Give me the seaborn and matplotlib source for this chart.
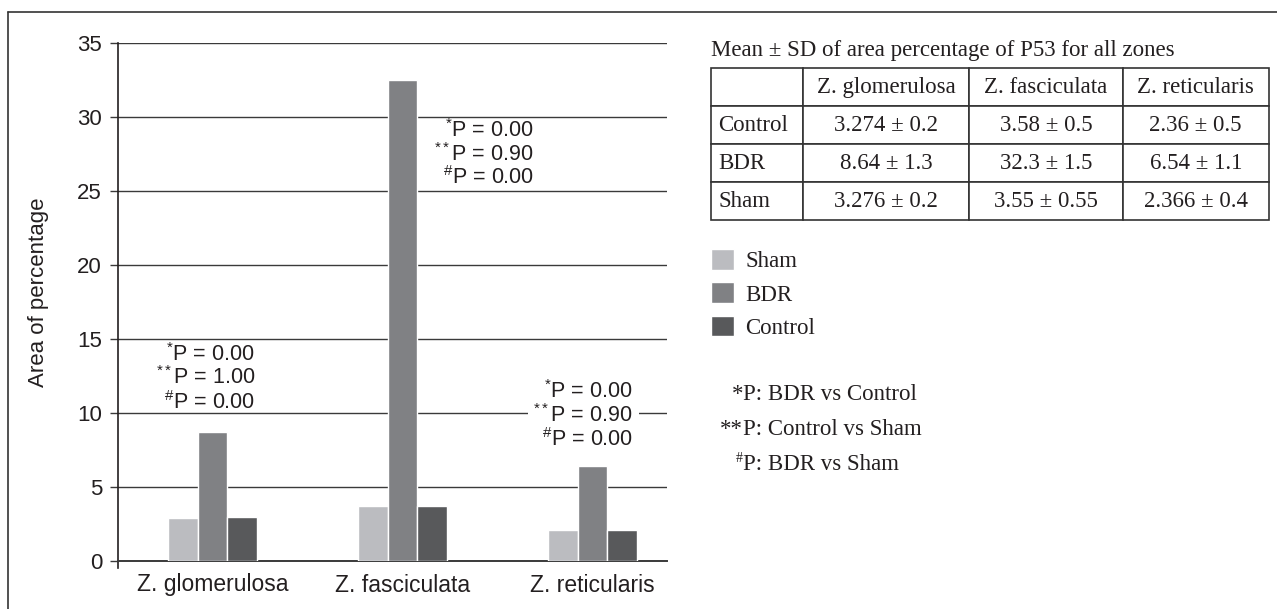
import matplotlib
matplotlib.use("Agg")
import matplotlib.pyplot as plt
import seaborn as sns
import pandas as pd

# ---------------- data ----------------
zones = ["Z. glomerulosa", "Z. fasciculata", "Z. reticularis"]
groups = ["Sham", "BDR", "Control"]
sham = [2.92, 3.74, 2.10]
bdr = [8.74, 32.5, 6.45]
control = [2.97, 3.74, 2.10]

p_star = ["0.00", "0.00", "0.00"]
p_dstar = ["1.00", "0.90", "0.90"]
p_hash = ["0.00", "0.00", "0.00"]

table_title = "Mean \u00b1 SD of area percentage of P53 for all zones"
table_rows = ["Control", "BDR", "Sham"]
table_control = ["3.274 \u00b1 0.2", "3.58 \u00b1 0.5", "2.36 \u00b1 0.5"]
table_bdr = ["8.64 \u00b1 1.3", "32.3 \u00b1 1.5", "6.54 \u00b1 1.1"]
table_sham = ["3.276 \u00b1 0.2", "3.55 \u00b1 0.55", "2.366 \u00b1 0.4"]

notes_prefix = ["*", "**", "#"]
notes_text = ["P: BDR vs Control", "P: Control vs Sham", "P: BDR vs Sham"]

colors = ["#bbbcc0", "#808184", "#58595b"]
# --------------------------------------

sns.set_theme(style="white")
plt.rcParams["font.family"] = ["Liberation Sans", "DejaVu Sans"]
plt.rcParams["mathtext.fontset"] = "custom"
plt.rcParams["mathtext.rm"] = "Liberation Sans"
plt.rcParams["mathtext.it"] = "Liberation Sans"
plt.rcParams["mathtext.bf"] = "Liberation Sans"

TXT = "#231f20"
W, H = 1277, 609
fig = plt.figure(figsize=(W / 100, H / 100), dpi=100)
fig.patch.set_facecolor("white")

ax = fig.add_axes([118 / W, 1 - 561 / H, 549 / W, (561 - 43.3) / H])

df = pd.DataFrame({
    "zone": zones * 3,
    "group": ["Sham"] * 3 + ["BDR"] * 3 + ["Control"] * 3,
    "value": sham + bdr + control,
})
sns.barplot(data=df, x="zone", y="value", hue="group", hue_order=groups,
            order=zones, palette=colors, width=0.47, gap=0, saturation=1,
            ax=ax, zorder=3, legend=True)

ax.set_xlim(-0.497, 2.392)
ax.set_ylim(0, 35)
ax.set_yticks(range(0, 36, 5))
ax.grid(axis="y", color="#3a3a3a", lw=1.0, zorder=0)
ax.grid(axis="x", visible=False)
ax.set_axisbelow(True)
for s in ["top", "right"]:
    ax.spines[s].set_visible(False)
ax.spines["left"].set_color("#231f20")
ax.spines["left"].set_linewidth(1.2)
ax.spines["left"].set_bounds(-0.5, 35)
ax.spines["bottom"].set_color("#3a3a3a")
ax.spines["bottom"].set_linewidth(1.4)
ax.tick_params(axis="y", direction="out", length=6, width=1.0, color="#3a3a3a",
               pad=5.5, labelsize=16, labelcolor=TXT, left=True)
ax.tick_params(axis="x", length=0, pad=9, labelsize=16.5, labelcolor=TXT)
ax.set_xlabel("")
ax.set_ylabel("Area of percentage", fontsize=16, color=TXT)
ax.yaxis.set_label_coords(-0.126, 0.52)

# annotations
ann_x = [0.224, 1.692, 2.213]
ann_y = [[13.95, 12.37, 10.74], [29.1, 27.5, 25.9], [11.47, 9.84, 8.2]]
for i in range(3):
    lines = [r"$^{*}$P = " + p_star[i], r"$^{**}$P = " + p_dstar[i],
             r"$^{\#}$P = " + p_hash[i]]
    for j, t in enumerate(lines):
        kw = {}
        if i == 2 and j == 1:
            kw["bbox"] = dict(facecolor="white", edgecolor="none", pad=4)
        ax.text(ann_x[i], ann_y[i][j], t, ha="right", va="center",
                fontsize=15.5, color=TXT, zorder=5, **kw)

# legend
sns.move_legend(ax, "upper left", bbox_to_anchor=(711 / W, 1 - 249 / H),
                bbox_transform=fig.transFigure, frameon=False, title=None,
                prop={"family": "Liberation Serif", "size": 16.5},
                handlelength=1.0, handleheight=1.0, handletextpad=0.5,
                labelspacing=0.45, borderpad=0, borderaxespad=0)
for t in ax.get_legend().get_texts():
    t.set_color(TXT)

# overlay in pixel coordinates
oax = fig.add_axes([0, 0, 1, 1])
oax.set_xlim(0, W)
oax.set_ylim(H, 0)
oax.axis("off")
oax.plot([8, 8], [H, 12], color="#333333", lw=1.2, clip_on=False)
oax.plot([8, W], [12, 12], color="#333333", lw=1.2, clip_on=False)

oax.text(711, 56, table_title, ha="left", va="baseline",
         fontsize=16.5, family="Liberation Serif", color=TXT)

cell_text = [[""] + zones,
             [table_rows[0]] + table_control,
             [table_rows[1]] + table_bdr,
             [table_rows[2]] + table_sham]
colw = [92.3, 166, 153.4, 146]
tot = sum(colw)
x0, x1, y0, y1 = 711, 1268.7, 68.3, 220.3
tbl = oax.table(cellText=cell_text, colWidths=[c / tot for c in colw],
                cellLoc="center",
                bbox=[x0 / W, 1 - y1 / H, (x1 - x0) / W, (y1 - y0) / H])
tbl.auto_set_font_size(False)
for (r, c), cell in tbl.get_celld().items():
    cell.set_edgecolor("#333333")
    cell.set_linewidth(1.2)
    txt = cell.get_text()
    txt.set_fontfamily("Liberation Serif")
    txt.set_fontsize(16.5)
    txt.set_color(TXT)
    if c == 0:
        txt.set_ha("left")
        cell.PAD = 0.08

# notes
note_y = [394, 429.5, 464.5]
for k in range(3):
    oax.text(743, note_y[k], notes_text[k], ha="left", va="center",
             fontsize=16.5, family="Liberation Serif", color=TXT)
    if notes_prefix[k] == "#":
        oax.text(743, note_y[k] - 6, notes_prefix[k], ha="right", va="center",
                 fontsize=10, family="Liberation Serif", color=TXT)
    else:
        oax.text(743, note_y[k], notes_prefix[k], ha="right", va="center",
                 fontsize=16.5, family="Liberation Serif", color=TXT)

fig.savefig("out.png", dpi=100, facecolor="white")
